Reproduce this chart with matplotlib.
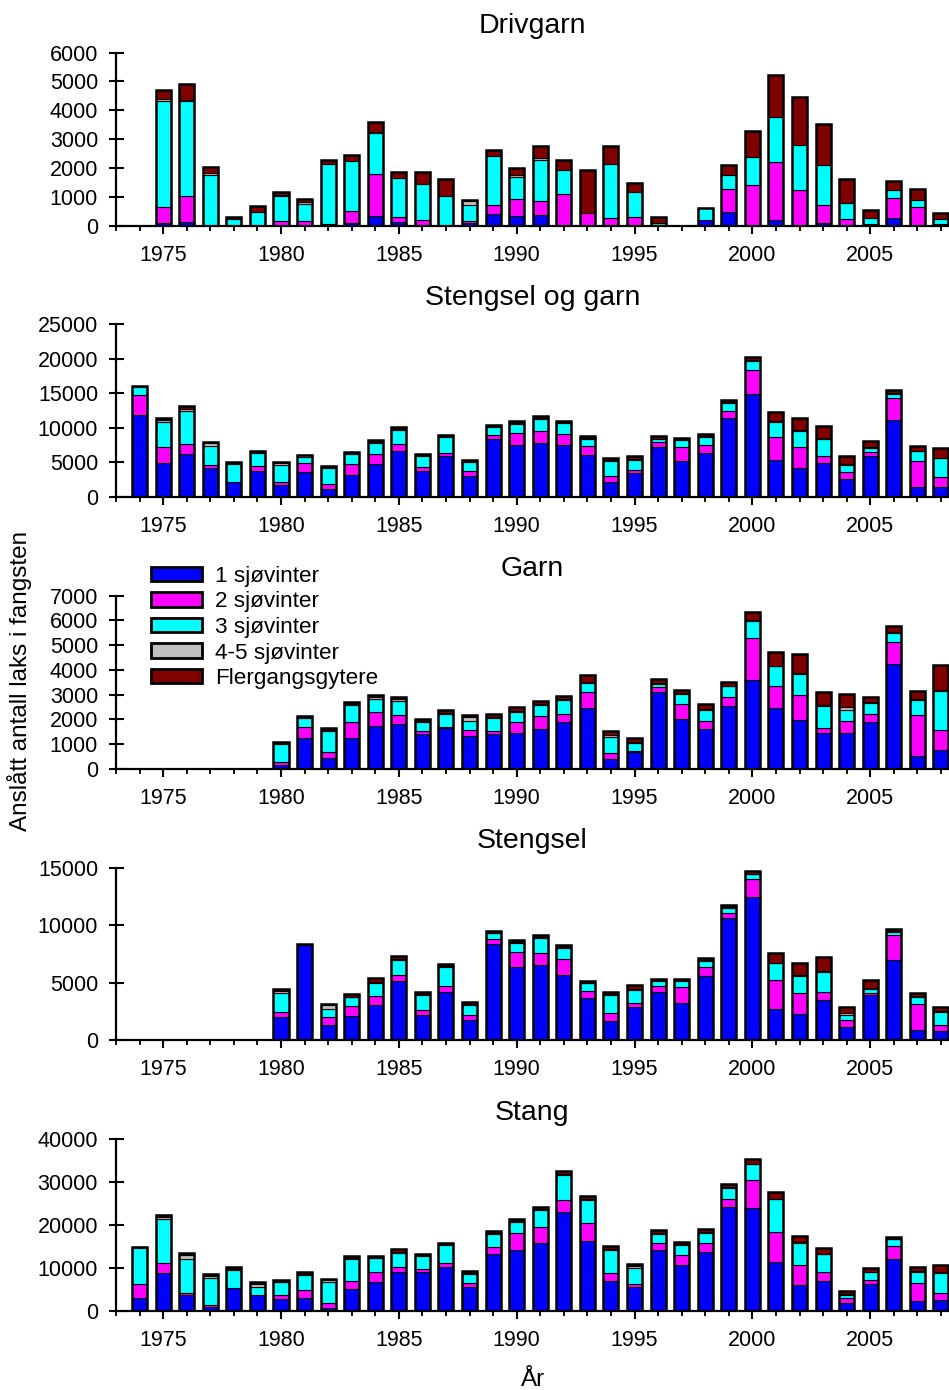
import numpy as np
import matplotlib
matplotlib.use("Agg")
import matplotlib.pyplot as plt
from matplotlib.patches import Patch

plt.rcParams['font.family'] = ['Liberation Sans', 'DejaVu Sans']

years = list(range(1974, 2009))
series_labels = ["1 sjøvinter", "2 sjøvinter", "3 sjøvinter", "4-5 sjøvinter", "Flergangsgytere"]
series_colors = ["#0000FF", "#FF00FF", "#00FFFF", "#C0C0C0", "#800000"]

# Drivgarn
drivgarn_1sw = [0, 90, 120, 0, 0, 0, 0, 0, 0, 70, 330, 130, 0, 0, 80, 410, 340, 350, 0, 0,
                0, 0, 0, 0, 200, 480, 0, 200, 0, 70, 0, 0, 270, 0, 0]
drivgarn_2sw = [0, 550, 890, 0, 0, 0, 160, 150, 60, 430, 1460, 170, 200, 0, 80, 310, 590, 500, 1090, 430,
                270, 300, 30, 0, 0, 800, 1410, 2020, 1220, 640, 240, 60, 680, 640, 60]
drivgarn_3sw = [0, 3690, 3330, 1760, 230, 480, 850, 580, 2090, 1740, 1410, 1360, 1230, 1030, 560, 1710, 760, 1420, 830, 0,
                1880, 860, 70, 0, 400, 480, 970, 1540, 1590, 1380, 550, 210, 270, 260, 160]
drivgarn_45sw = [0, 50, 20, 80, 0, 0, 60, 70, 0, 0, 60, 0, 0, 0, 140, 0, 50, 70, 0, 0,
                 0, 0, 0, 0, 0, 0, 0, 0, 0, 0, 0, 0, 0, 0, 0]
drivgarn_fg = [0, 310, 540, 190, 60, 210, 90, 120, 120, 210, 330, 190, 440, 590, 20, 190, 240, 420, 350, 1490,
               620, 320, 190, 0, 20, 340, 900, 1450, 1640, 1440, 830, 260, 310, 360, 200]

# Stengsel og garn
sg_1sw = [11790, 4930, 6140, 4110, 2170, 3720, 1640, 3530, 1110, 3140, 4690, 6570, 3670, 5850, 3040, 8310, 7440, 7830,
          7440, 5990, 2080, 3430, 7200, 5220, 6380, 11450, 14830, 5270, 4200, 4830, 2510, 5890, 11110, 1350, 1350]
sg_2sw = [2990, 2220, 1490, 480, 0, 720, 530, 1300, 730, 1590, 1450, 1060, 580, 430, 630, 580, 1790, 1640,
          1690, 1300, 960, 480, 670, 1930, 1060, 920, 3530, 3380, 3000, 1020, 1110, 540, 3140, 3870, 1550]
sg_3sw = [1110, 3670, 4790, 2700, 2560, 1840, 2420, 970, 2270, 1450, 1640, 1980, 1690, 2370, 1310, 1250, 1300, 1790,
          1550, 1020, 2080, 1400, 540, 1010, 1210, 1160, 1250, 2170, 2270, 2560, 970, 670, 680, 1350, 2660]
sg_45sw = [0, 290, 240, 440, 100, 150, 240, 190, 240, 150, 190, 150, 150, 150, 190, 150, 150, 150,
           150, 190, 190, 100, 0, 150, 150, 150, 150, 100, 150, 100, 150, 150, 100, 100, 90]
sg_fg = [110, 240, 430, 240, 240, 190, 150, 100, 90, 140, 240, 290, 90, 140, 140, 140, 240, 280,
         180, 290, 340, 440, 380, 190, 280, 330, 530, 1400, 1830, 1780, 1110, 870, 430, 620, 1400]

# Garn
garn_1sw = [0, 0, 0, 0, 0, 0, 150, 1240, 430, 1240, 1750, 1800, 1410, 1660, 1320, 1400, 1450, 1630, 1880, 2450,
            420, 690, 3100, 2010, 1630, 2530, 3590, 2450, 1960, 1440, 1440, 1910, 4230, 520, 770]
garn_2sw = [0, 0, 0, 0, 0, 0, 130, 440, 240, 660, 540, 380, 110, 20, 240, 120, 460, 510, 330, 650,
            230, 50, 200, 600, 320, 360, 1690, 910, 1010, 200, 480, 310, 880, 1650, 820]
garn_3sw = [0, 0, 0, 0, 0, 0, 720, 380, 850, 670, 550, 580, 360, 540, 390, 540, 390, 460, 590, 390,
            660, 320, 130, 400, 450, 450, 680, 790, 870, 900, 450, 430, 390, 620, 1550]
garn_45sw = [0, 0, 0, 0, 0, 0, 40, 40, 70, 50, 80, 50, 40, 40, 140, 40, 40, 30, 30, 30,
             50, 40, 40, 40, 30, 30, 40, 30, 40, 40, 120, 40, 30, 30, 40]
garn_fg = [0, 0, 0, 0, 0, 0, 40, 50, 50, 70, 70, 80, 90, 120, 90, 120, 150, 100, 130, 290,
           190, 170, 160, 140, 180, 160, 350, 530, 760, 520, 550, 220, 260, 340, 1020]

# Stengsel
stengsel_1sw = [0, 0, 0, 0, 0, 0, 2000, 8310, 1300, 2090, 3040, 5130, 2170, 4230, 1740, 8400, 6340, 6520, 5650, 3650,
                1710, 2920, 4170, 3210, 5590, 10600, 12420, 2750, 2260, 3480, 1190, 3970, 7010, 930, 780]
stengsel_2sw = [0, 0, 0, 0, 0, 0, 430, 0, 700, 860, 810, 520, 490, 460, 430, 430, 1310, 1040, 1390, 670,
                690, 350, 580, 1390, 750, 460, 1600, 2520, 1880, 750, 580, 170, 2110, 2200, 520]
stengsel_3sw = [0, 0, 0, 0, 0, 0, 1680, 0, 690, 790, 1160, 1330, 1280, 1710, 900, 470, 840, 1330, 980, 630,
                1510, 1130, 430, 580, 580, 440, 400, 1420, 1480, 1710, 460, 290, 290, 630, 1190]
stengsel_45sw = [0, 0, 0, 0, 0, 0, 150, 0, 410, 60, 90, 90, 90, 90, 90, 60, 90, 60, 60, 60,
                 120, 90, 60, 60, 60, 60, 60, 60, 60, 60, 120, 90, 60, 60, 60]
stengsel_fg = [0, 0, 0, 0, 0, 0, 170, 60, 60, 200, 290, 260, 200, 110, 140, 110, 140, 230, 170, 170,
               170, 290, 120, 120, 200, 170, 260, 870, 1070, 1210, 520, 690, 200, 320, 310]

# Stang
stang_1sw = [3020, 8970, 3790, 1010, 5410, 3710, 2940, 3020, 770, 5180, 6730, 9050, 9050, 10290, 5570, 13230, 14310,
             15930, 23050, 16240, 6960, 5650, 14150, 10670, 13690, 24280, 23900, 11370, 6110, 7120, 2010, 6260,
             12220, 2470, 2550]
stang_2sw = [3400, 2320, 540, 380, 80, 80, 850, 1850, 1090, 1940, 2470, 1240, 690, 1000, 930, 1620, 3790,
             3560, 2700, 4250, 2010, 610, 1630, 2400, 2090, 1860, 6650, 7040, 4720, 2080, 1010, 930,
             2860, 4180, 1630]
stang_3sw = [8350, 10130, 7890, 6340, 4180, 1930, 2940, 3480, 4870, 4950, 3100, 3320, 3100, 4020, 2240, 3020, 2550,
             4020, 5800, 5260, 5180, 3790, 2240, 2320, 2470, 2550, 3560, 7580, 5100, 4030, 850, 1860,
             1630, 2550, 4710]
stang_45sw = [150, 390, 850, 390, 150, 620, 150, 310, 460, 380, 150, 230, 230, 230, 150, 230, 230,
              150, 310, 230, 310, 390, 150, 150, 230, 150, 150, 150, 230, 150, 230, 150,
              150, 150, 310]
stang_fg = [80, 460, 390, 460, 470, 390, 310, 540, 310, 390, 470, 700, 310, 390, 550, 540, 470,
            470, 700, 780, 700, 460, 620, 550, 550, 780, 1080, 1620, 1320, 1390, 620, 780,
            390, 1010, 1550]

panels = [
    ("Drivgarn", [drivgarn_1sw, drivgarn_2sw, drivgarn_3sw, drivgarn_45sw, drivgarn_fg], 6000, 1000),
    ("Stengsel og garn", [sg_1sw, sg_2sw, sg_3sw, sg_45sw, sg_fg], 25000, 5000),
    ("Garn", [garn_1sw, garn_2sw, garn_3sw, garn_45sw, garn_fg], 7000, 1000),
    ("Stengsel", [stengsel_1sw, stengsel_2sw, stengsel_3sw, stengsel_45sw, stengsel_fg], 15000, 5000),
    ("Stang", [stang_1sw, stang_2sw, stang_3sw, stang_45sw, stang_fg], 40000, 10000),
]

W, H = 949, 1390
fig = plt.figure(figsize=(W / 100, H / 100), dpi=100)

# pixel extents (top, bottom) of each panel
panel_px = [(52.7, 225.5), (324.0, 496.7), (595.7, 769.0), (867.7, 1040.3), (1139.0, 1311.3)]
left_px, right_px = 115.5, 949.0
x_lo = 1972.98
x_hi = x_lo + (right_px - left_px) / 23.57

bar_w = 0.64
x = np.array(years)

for (title, series, ymax, ystep), (top, bot) in zip(panels, panel_px):
    ax = fig.add_axes([left_px / W, 1 - bot / H, (right_px - left_px) / W, (bot - top) / H])
    base = np.zeros(len(years))
    for vals, col in zip(series, series_colors):
        v = np.array(vals, dtype=float)
        mask = v > 0
        ax.bar(x[mask], v[mask], bottom=base[mask], width=bar_w, color=col,
               edgecolor="black", linewidth=0.8, zorder=2)
        base += v
    mask = base > 0
    ax.bar(x[mask], base[mask], width=bar_w, fill=False, edgecolor="black",
           linewidth=1.8, zorder=3)

    ax.set_xlim(x_lo, x_hi)
    ax.set_ylim(0, ymax)
    ax.set_yticks(np.arange(0, ymax + 1, ystep))
    ax.set_xticks(range(1975, 2009, 5))
    ax.set_xticks(range(1973, 2009), minor=True)
    for s in ("top", "right"):
        ax.spines[s].set_visible(False)
    for s in ("left", "bottom"):
        ax.spines[s].set_linewidth(1.6)
    ax.tick_params(axis="y", direction="inout", length=10.8, width=1.5, pad=7.2, labelsize=15.5)
    ax.tick_params(axis="x", which="major", direction="out", length=5.5, width=1.5, pad=8.2, labelsize=15.5)
    ax.tick_params(axis="x", which="minor", direction="out", length=3.5, width=1.3)
    ax.set_title(title, fontsize=20.5, pad=14)
    ax.patch.set_alpha(0)

fig.text(20 / W, 1 - 681 / H, "Anslått antall laks i fangsten", rotation=90,
         ha="center", va="center", fontsize=17.5)
fig.text(533 / W, 1 - 1380 / H, "År", ha="center", va="center", fontsize=17.5)

handles = [Patch(facecolor=c, edgecolor="black", linewidth=2.0) for c in series_colors]
fig.legend(handles, series_labels, loc="upper left", bbox_to_anchor=(151 / W, 1 - 566 / H),
           frameon=False, fontsize=16.2, handlelength=2.25, handleheight=0.6,
           handletextpad=0.58, labelspacing=0.2, borderpad=0, borderaxespad=0)

fig.savefig("out.png", dpi=100)
